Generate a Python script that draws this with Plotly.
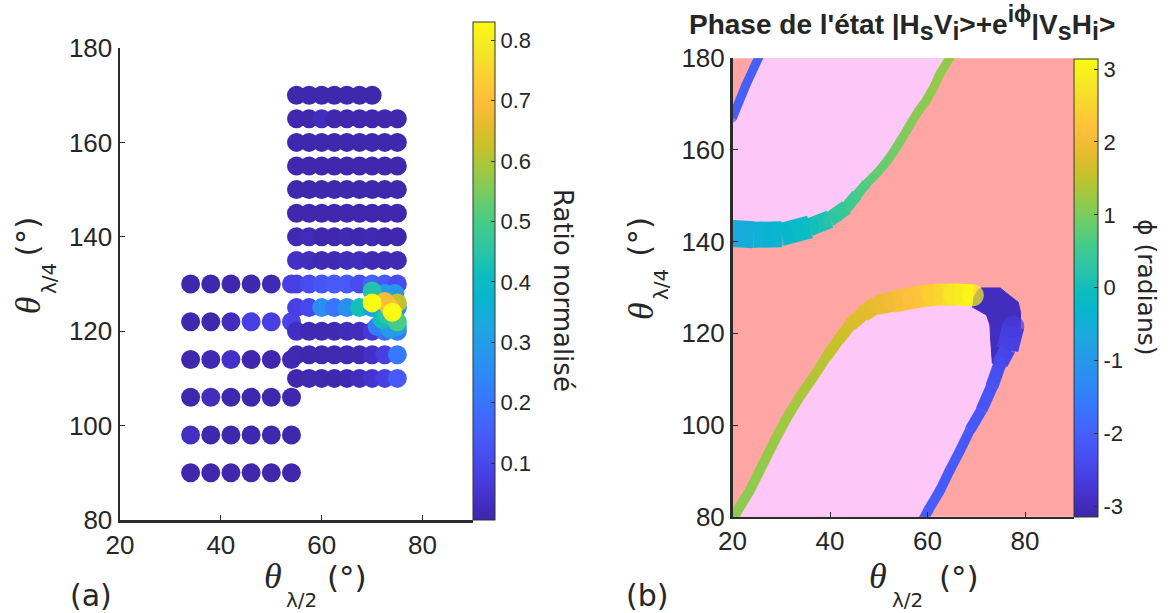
import math
import plotly.graph_objects as go
from plotly.colors import sample_colorscale

W, H = 1171, 613          # browser window

# ---------------- panel (a) data ----------------
A_LEFT_X = [34, 38, 42, 46, 50, 54]
A_LEFT_Y = [90, 98, 106, 114, 122, 130]
A_LEFT_V = [
    [0.012, 0.012, 0.012, 0.012, 0.012, 0.012],   # 90
    [0.035, 0.012, 0.012, 0.012, 0.012, 0.012],   # 98
    [0.012, 0.030, 0.012, 0.012, 0.012, 0.012],   # 106
    [0.012, 0.020, 0.040, 0.012, 0.012, 0.020],   # 114
    [0.012, 0.012, 0.030, 0.080, 0.080, 0.090],   # 122
    [0.012, 0.012, 0.012, 0.012, 0.020, 0.080],   # 130
]
A_RIGHT_X = [55, 57.5, 60, 62.5, 65, 67.5, 70, 72.5, 75]
A_RIGHT_Y = [110, 115, 120, 125, 130, 135, 140, 145, 150, 155, 160, 165, 170]
A_RIGHT_V = [
    [0.012, 0.015, 0.015, 0.012, 0.015, 0.030, 0.050, 0.080, 0.140],   # 110
    [0.015, 0.012, 0.015, 0.015, 0.015, 0.020, 0.040, 0.080, 0.210],   # 115
    [0.035, 0.020, 0.020, 0.020, 0.025, 0.030, 0.060, 0.180, 0.220],   # 120
    [0.080, 0.100, 0.260, 0.200, 0.260, 0.420, 0.300, 0.250, 0.240],   # 125
    [0.080, 0.110, 0.130, 0.140, 0.140, 0.110, 0.160, 0.140, 0.110],   # 130
    [0.040, 0.030, 0.020, 0.020, 0.025, 0.030, 0.020, 0.020, 0.020],   # 135
    [0.020, 0.025, 0.012, 0.012, 0.020, 0.012, 0.020, 0.012, 0.012],   # 140
    [0.012, 0.012, 0.012, 0.012, 0.012, 0.012, 0.012, 0.012, 0.012],   # 145
    [0.012, 0.012, 0.012, 0.012, 0.012, 0.012, 0.012, 0.012, 0.012],   # 150
    [0.012, 0.012, 0.012, 0.012, 0.012, 0.012, 0.012, 0.012, 0.012],   # 155
    [0.012, 0.012, 0.012, 0.012, 0.012, 0.012, 0.012, 0.012, 0.012],   # 160
    [0.012, 0.012, 0.030, 0.012, 0.012, 0.012, 0.012, 0.012, 0.012],   # 165
    [0.012, 0.012, 0.012, 0.012, 0.012, 0.012, 0.012],                 # 170
]
# finer scan around the maximum
FINE_X = [71, 73.5, 75, 72, 75, 73, 70, 72.5, 74.5, 72.5, 75, 73.5, 70, 74]
FINE_Y = [121, 120.5, 121, 122.5, 122, 123.5, 128.5, 128, 128, 126.3, 126, 125, 126, 124]
FINE_V = [0.22, 0.30, 0.30, 0.42, 0.50, 0.45, 0.44, 0.30, 0.28, 0.68, 0.62, 0.70, 0.83, 0.83]

RATIO_MIN, RATIO_MAX = 0.006, 0.83
RATIO_TICKS = [0.1, 0.2, 0.3, 0.4, 0.5, 0.6, 0.7, 0.8]

# ---------------- panel (b) data ----------------
BAND_A_X = [20.0, 22.6, 25.5]
BAND_A_Y = [167.0, 173.8, 180.5]
BAND_A_P = [-2.0, -2.02, -2.05]

BAND_B_X = [64.8, 62.6, 61.2, 59.8, 58.1, 56.8, 55.0, 53.3, 51.6, 49.6, 47.5, 45.5, 43.4, 40.0, 35.9, 30.1, 24.3, 20.0]
BAND_B_Y = [180.5, 176.7, 173.5, 170.9, 168.4, 166.2, 162.9, 160.0, 157.4, 154.9, 152.7, 150.2, 147.5, 144.9, 143.2, 141.6, 141.5, 141.8]
BAND_B_P = [1.2, 1.18, 1.16, 1.13, 1.1, 1.07, 1.03, 0.97, 0.9, 0.82, 0.72, 0.62, 0.5, 0.25, -0.05, -0.3, -0.5, -0.65]

BAND_C_X = [20.3, 20.9, 23.6, 26.3, 28.7, 31.1, 33.8, 36.6, 39.3, 41.7, 44.1, 46.8, 49.6, 53.0, 57.1, 61.2, 65.3, 69.3]
BAND_C_Y = [79.5, 81.1, 85.8, 91.6, 96.7, 101.5, 106.2, 110.5, 114.9, 118.5, 121.8, 124.3, 126.2, 126.9, 127.8, 128.4, 128.5, 128.3]
BAND_C_P = [1.12, 1.12, 1.15, 1.18, 1.22, 1.27, 1.33, 1.4, 1.48, 1.58, 1.7, 1.8, 1.9, 2.0, 2.2, 2.5, 2.85, 3.1]

BAND_E_X = [77.6, 76.4, 74.9, 73.2, 71.1, 68.7, 66.7, 64.6, 62.6, 60.2, 59.2]
BAND_E_Y = [121.5, 116.5, 113.5, 108.4, 103.3, 98.9, 94.5, 90.2, 85.8, 81.5, 79.5]
BAND_E_P = [-2.65, -2.5, -2.35, -2.25, -2.18, -2.12, -2.1, -2.08, -2.06, -2.05, -2.05]

BLOB_X = [69.4, 70.3, 71.1, 74.9, 76.9, 78.6, 79.1, 79.0, 77.9, 76.6, 75.2, 73.3, 73.0, 72.8, 72.1, 70.1, 69.1]
BLOB_Y = [127.6, 129.4, 129.9, 129.9, 128.2, 126.8, 124.5, 121.1, 118.2, 114.9, 112.5, 113.5, 118.0, 121.8, 124.0, 125.1, 125.8]
BLOB_P = -2.95

PHASE_TICKS = [-3, -2, -1, 0, 1, 2, 3]
AX_TICKS_X = [20, 40, 60, 80]
AX_TICKS_Y = [80, 100, 120, 140, 160, 180]

# ---------------- styles ----------------
PARULA = [
    [0 / 63, "rgb(62,38,168)"], [3 / 63, "rgb(68,50,203)"], [6 / 63, "rgb(71,65,229)"],
    [9 / 63, "rgb(72,82,244)"], [12 / 63, "rgb(69,99,253)"], [15 / 63, "rgb(56,117,254)"],
    [18 / 63, "rgb(46,135,247)"], [21 / 63, "rgb(39,150,235)"], [25 / 63, "rgb(28,169,223)"],
    [28 / 63, "rgb(8,181,208)"], [31 / 63, "rgb(11,189,189)"], [34 / 63, "rgb(44,196,167)"],
    [37 / 63, "rgb(63,202,142)"], [40 / 63, "rgb(100,205,111)"], [44 / 63, "rgb(157,201,67)"],
    [47 / 63, "rgb(197,194,42)"], [50 / 63, "rgb(230,187,45)"], [53 / 63, "rgb(254,190,60)"],
    [56 / 63, "rgb(252,207,48)"], [59 / 63, "rgb(245,227,39)"], [63 / 63, "rgb(249,251,21)"],
]
PINK = "#fdc8f7"
SALMON = "#ffa6a5"
TXT = "#262626"
TICKFONT = dict(family="Liberation Sans, Arial", size=26, color=TXT)
CBFONT = dict(family="Liberation Sans, Arial", size=22, color=TXT)

W_A = [9, 9]
W_B = [9, 9, 9, 9, 9, 9, 9, 9, 9, 9, 10, 12, 15, 18, 23, 26, 27]
W_C = [10, 10, 10, 10, 10, 10, 10, 10, 11, 12, 14, 17, 20, 22, 22, 22, 22]
W_E = [22, 16, 13, 12, 11, 10, 10, 10, 10, 10]


def pcol(phi):
    return sample_colorscale(PARULA, [(phi + math.pi) / (2 * math.pi)])[0]


fig = go.Figure()

# ---------- panel (a) ----------
ax, ay, av = [], [], []
for yy, row in zip(A_LEFT_Y, A_LEFT_V):
    for xx, vv in zip(A_LEFT_X, row):
        ax.append(xx); ay.append(yy); av.append(vv)
for yy, row in zip(A_RIGHT_Y, A_RIGHT_V):
    for xx, vv in zip(A_RIGHT_X, row):
        ax.append(xx); ay.append(yy); av.append(vv)
fig.add_trace(go.Scatter(x=ax, y=ay, mode="markers", xaxis="x", yaxis="y",
                         marker=dict(size=19, color=av, coloraxis="coloraxis", line=dict(width=0))))
order = sorted(range(len(FINE_V)), key=lambda i: FINE_V[i])
fig.add_trace(go.Scatter(x=[FINE_X[i] for i in order], y=[FINE_Y[i] for i in order],
                         mode="markers", xaxis="x", yaxis="y",
                         marker=dict(size=19, color=[FINE_V[i] for i in order], coloraxis="coloraxis",
                                     line=dict(width=0))))

# ---------- panel (b) ----------
up_x = BAND_A_X + BAND_B_X
up_y = BAND_A_Y + BAND_B_Y
fig.add_trace(go.Scatter(x=up_x, y=up_y, fill="toself", fillcolor=PINK, mode="lines",
                         line=dict(width=0, color=PINK), xaxis="x2", yaxis="y2"))
low_x = BAND_C_X + BLOB_X[11:16][::-1] + BAND_E_X[2:]
low_y = BAND_C_Y + BLOB_Y[11:16][::-1] + BAND_E_Y[2:]
fig.add_trace(go.Scatter(x=low_x, y=low_y, fill="toself", fillcolor=PINK, mode="lines",
                         line=dict(width=0, color=PINK), xaxis="x2", yaxis="y2"))
fig.add_trace(go.Scatter(x=BLOB_X, y=BLOB_Y, fill="toself", fillcolor=pcol(BLOB_P), mode="lines",
                         line=dict(width=1, color=pcol(BLOB_P)), xaxis="x2", yaxis="y2"))

jx, jy, jp, js = [], [], [], []
for bx, by, bp, bw in [(BAND_A_X, BAND_A_Y, BAND_A_P, W_A), (BAND_B_X, BAND_B_Y, BAND_B_P, W_B),
                       (BAND_C_X, BAND_C_Y, BAND_C_P, W_C), (BAND_E_X, BAND_E_Y, BAND_E_P, W_E)]:
    for i in range(len(bx) - 1):
        fig.add_trace(go.Scatter(x=[bx[i], bx[i + 1]], y=[by[i], by[i + 1]], mode="lines",
                                 line=dict(width=bw[i], color=pcol((bp[i] + bp[i + 1]) / 2)),
                                 xaxis="x2", yaxis="y2"))
    for i in range(len(bx)):
        nb = [bw[k] for k in (i - 1, i) if 0 <= k < len(bw)]
        jx.append(bx[i]); jy.append(by[i]); jp.append(bp[i]); js.append(min(nb))
fig.add_trace(go.Scatter(x=jx, y=jy, mode="markers", xaxis="x2", yaxis="y2",
                         marker=dict(size=js, color=jp, coloraxis="coloraxis2", line=dict(width=0))))


# ---------- layout (positions given in window pixels) ----------
def px2x(p):
    return p / W


def py2y(p):
    return 1 - p / H


axis_common = dict(range=[20, 90], showgrid=False, zeroline=False, showline=True, linecolor="#2b2b2b",
                   linewidth=2.5, ticks="inside", ticklen=5, tickcolor="#2b2b2b", tickfont=TICKFONT,
                   automargin=False)
yaxis_common = dict(range=[80, 180], showgrid=False, zeroline=False, showline=True, linecolor="#2b2b2b",
                    linewidth=2.5, ticks="inside", ticklen=5, tickcolor="#2b2b2b", tickfont=TICKFONT,
                    automargin=False)

fig.update_layout(
    width=W, height=H, margin=dict(l=0, r=0, t=0, b=0, pad=0, autoexpand=False),
    paper_bgcolor="white", plot_bgcolor="white", showlegend=False, hovermode=False,
    xaxis=dict(axis_common, domain=[px2x(120), px2x(473)], anchor="y", tickvals=AX_TICKS_X),
    yaxis=dict(yaxis_common, domain=[py2y(520), py2y(48)], anchor="x", tickvals=AX_TICKS_Y),
    xaxis2=dict(axis_common, domain=[px2x(732.5), px2x(1073.75)], anchor="y2", tickvals=AX_TICKS_X),
    yaxis2=dict(yaxis_common, domain=[py2y(516.7), py2y(58.3)], anchor="x2", tickvals=AX_TICKS_Y),
    coloraxis=dict(colorscale=PARULA, cmin=RATIO_MIN, cmax=RATIO_MAX,
                   colorbar=dict(x=px2x(473), xanchor="left", xpad=0, y=py2y(520), yanchor="bottom", ypad=0,
                                 thickness=22, lenmode="pixels", len=498, outlinewidth=1, outlinecolor="#333",
                                 tickvals=RATIO_TICKS, ticktext=[f"{t:.1f}" for t in RATIO_TICKS],
                                 ticks="inside", ticklen=4, tickcolor="#333", tickfont=CBFONT)),
    coloraxis2=dict(colorscale=PARULA, cmin=-math.pi, cmax=math.pi,
                    colorbar=dict(x=px2x(1074), xanchor="left", xpad=0, y=py2y(516.7), yanchor="bottom", ypad=0,
                                  thickness=24, lenmode="pixels", len=458, outlinewidth=1, outlinecolor="#333",
                                  tickvals=PHASE_TICKS, ticktext=[str(t) for t in PHASE_TICKS],
                                  ticks="inside", ticklen=4, tickcolor="#333", tickfont=CBFONT)),
    shapes=[dict(type="rect", xref="x2 domain", yref="y2 domain", x0=0, x1=1, y0=0, y1=1,
                 fillcolor=SALMON, line=dict(width=0), layer="below")],
)


def ann(px, py, text, size, family, angle=0):
    return dict(x=px2x(px), y=py2y(py), xref="paper", yref="paper", text=text, showarrow=False,
                textangle=angle, xanchor="center", yanchor="middle",
                font=dict(size=size, family=family, color=TXT))


SERIF = "Liberation Serif, Times New Roman"
SANS = "DejaVu Sans"
theta = "<i>θ</i>"
SUBSTYLE = '<span style="font-size:25px">%s</span>'
SUPSTYLE = '<span style="font-size:23px">%s</span>'
title_txt = ("<b>Phase de l'état |H<sub>" + SUBSTYLE % "s" + "</sub>V<sub>" + SUBSTYLE % "i" +
             "</sub>&gt;+e<sup>" + SUPSTYLE % "iϕ" + "</sup>|V<sub>" + SUBSTYLE % "s" + "</sub>H<sub>" +
             SUBSTYLE % "i" + "</sub>&gt;</b>")
annotations = [
    # panel (a) x title
    ann(272.5, 576, theta, 36, SERIF), ann(301.5, 600, "λ/2", 20, SANS), ann(346.7, 577, "(°)", 31, SANS),
    # panel (a) y title
    ann(28.3, 305, theta, 36, SERIF, -90), ann(49, 279, "λ/4", 20, SANS, -90), ann(26.7, 236.7, "(°)", 31, SANS, -90),
    # panel (b) x title
    ann(878.3, 576, theta, 36, SERIF), ann(907.5, 600, "λ/2", 20, SANS), ann(959.2, 577, "(°)", 31, SANS),
    # panel (b) y title
    ann(641, 311, theta, 36, SERIF, -90), ann(661, 285, "λ/4", 20, SANS, -90), ann(639, 236.7, "(°)", 31, SANS, -90),
    # colorbar titles
    ann(563, 290, "Ratio normalisé", 26, SANS, 90),
    ann(1146, 287, "ϕ (radians)", 25, SANS, 90),
    # panel labels
    ann(91, 595, "(a)", 30, SANS), ann(647, 595, "(b)", 30, SANS),
    # title of panel (b)
    ann(901.5, 23, title_txt, 28, "Liberation Sans, Arial"),
]
fig.update_layout(annotations=annotations)

fig.write_html(
    "out.html",
    config={"displayModeBar": False, "staticPlot": True},
    post_script="document.body.style.margin='0px';document.documentElement.style.overflow='hidden';",
)
